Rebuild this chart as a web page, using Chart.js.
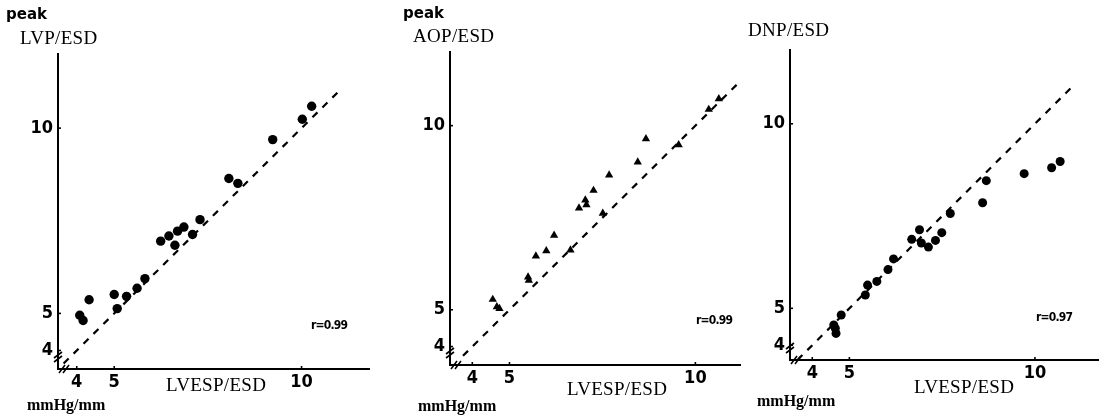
<!DOCTYPE html>
<html>
<head>
<meta charset="utf-8">
<script src="https://cdn.jsdelivr.net/npm/chart.js@4.4.1/dist/chart.umd.min.js"></script>
<style>
  body { margin: 0; background: #fff; }
  #wrap { position: relative; width: 1104px; height: 415px; overflow: hidden; background: #fff; }
  canvas { position: absolute; top: 0; }
  .t { position: absolute; color: #000; white-space: nowrap; line-height: 1; }
  .peak { font-family: "DejaVu Sans", sans-serif; font-weight: bold; font-size: 15px; }
  .ttl { font-family: "Liberation Serif", serif; font-size: 19px; letter-spacing: 0.3px; }
  .unit { font-family: "Liberation Serif", serif; font-weight: bold; font-size: 16px; }
  .r { font-family: "DejaVu Sans Condensed", sans-serif; font-weight: bold; font-size: 12px; letter-spacing: -0.8px; }
</style>
</head>
<body>
<div id="wrap">
  <canvas id="c1" width="380" height="415" style="left:0px"></canvas>
  <canvas id="c2" width="360" height="415" style="left:390px"></canvas>
  <canvas id="c3" width="352" height="415" style="left:752px"></canvas>

  <div class="t peak" style="left:6px;top:7px">peak</div>
  <div class="t ttl" style="left:20px;top:28px">LVP/ESD</div>
  <div class="t ttl" style="left:166px;top:375px">LVESP/ESD</div>
  <div class="t unit" style="left:27px;top:397px">mmHg/mm</div>
  <div class="t r" style="left:311px;top:319px">r=0.99</div>

  <div class="t peak" style="left:403px;top:6px">peak</div>
  <div class="t ttl" style="left:413px;top:26px">AOP/ESD</div>
  <div class="t ttl" style="left:567px;top:379px">LVESP/ESD</div>
  <div class="t unit" style="left:418px;top:398px">mmHg/mm</div>
  <div class="t r" style="left:696px;top:314px">r=0.99</div>

  <div class="t ttl" style="left:748px;top:20px">DNP/ESD</div>
  <div class="t ttl" style="left:914px;top:377px">LVESP/ESD</div>
  <div class="t unit" style="left:757px;top:393px">mmHg/mm</div>
  <div class="t r" style="left:1036px;top:311px">r=0.97</div>
</div>
<script>
// tick labels shown on both axes
const xTicks = [4, 5, 10];
const yTicks = [4, 5, 10];

// peak LVP/ESD vs LVESP/ESD
const lvpX = [4.08, 4.17, 4.33, 5.0, 5.08, 5.33, 5.61, 5.82, 6.24, 6.46, 6.62, 6.69, 6.86, 7.09, 7.29, 8.06, 8.3, 9.23, 10.02, 10.27];
const lvpY = [4.95, 4.81, 5.37, 5.51, 5.13, 5.46, 5.68, 5.94, 6.95, 7.09, 6.84, 7.22, 7.33, 7.13, 7.53, 8.64, 8.51, 9.69, 10.24, 10.59];

// peak AOP/ESD vs LVESP/ESD
const aopX = [4.55, 4.66, 4.73, 5.5, 5.52, 5.71, 5.99, 6.2, 6.64, 6.87, 7.04, 7.07, 7.26, 7.51, 7.68, 8.45, 8.67, 9.55, 10.36, 10.63];
const aopY = [5.28, 5.08, 5.03, 5.89, 5.8, 6.46, 6.6, 7.02, 6.62, 7.76, 7.98, 7.85, 8.24, 7.62, 8.66, 9.01, 9.64, 9.48, 10.44, 10.73];

// DNP/ESD vs LVESP/ESD
const dnpX = [4.62, 4.58, 4.64, 4.78, 5.43, 5.49, 5.74, 6.04, 6.19, 6.68, 6.89, 6.94, 7.13, 7.32, 7.49, 7.72, 8.59, 8.69, 9.71, 10.45, 10.68];
const dnpY = [4.46, 4.55, 4.32, 4.82, 5.36, 5.63, 5.73, 6.05, 6.34, 6.87, 7.13, 6.77, 6.66, 6.84, 7.05, 7.57, 7.86, 8.46, 8.65, 8.81, 8.98];

// identity line ends (x = y)
const line1 = [3.65, 11.0];
const line2 = [3.75, 11.3];
const line3 = [3.6, 11.0];

const tickFont = { family: '"DejaVu Sans Condensed", "DejaVu Sans", sans-serif', size: 18, weight: 'bold' };

const toPts = (xs, ys) => xs.map((x, i) => ({ x: x, y: ys[i] }));

// axis break marks and small inward tick bumps
const axisMarks = {
  id: 'axisMarks',
  afterDraw(chart) {
    const { ctx, scales: { x, y } } = chart;
    const x0 = x.left, y0 = y.bottom;
    ctx.save();
    ctx.strokeStyle = '#000';
    ctx.lineWidth = 1.6;
    xTicks.forEach(v => {
      const px = x.getPixelForValue(v);
      ctx.beginPath(); ctx.moveTo(px, y0); ctx.lineTo(px, y0 - 3); ctx.stroke();
    });
    yTicks.forEach(v => {
      const py = y.getPixelForValue(v);
      ctx.beginPath(); ctx.moveTo(x0, py); ctx.lineTo(x0 + 3, py); ctx.stroke();
    });
    // double slashes near the origin
    [-4, 0].forEach(d => {
      const py = y0 - 10 + d;
      ctx.beginPath(); ctx.moveTo(x0 - 4, py + 3); ctx.lineTo(x0 + 4, py - 3); ctx.stroke();
      const px = x0 + 8 + d;
      ctx.beginPath(); ctx.moveTo(px - 3, y0 + 4); ctx.lineTo(px + 3, y0 - 4); ctx.stroke();
    });
    ctx.restore();
  }
};

function makePanel(id, p) {
  new Chart(document.getElementById(id), {
    type: 'scatter',
    data: {
      datasets: [
        {
          data: toPts(p.xs, p.ys),
          pointStyle: p.style,
          pointRadius: p.radius,
          backgroundColor: '#000',
          borderColor: '#000',
          borderWidth: 0,
        },
        {
          type: 'line',
          data: toPts(p.line, p.line),
          borderColor: '#000',
          borderWidth: 2.2,
          borderDash: [7, 7],
          pointRadius: 0,
          fill: false,
        },
      ],
    },
    options: {
      responsive: false,
      animation: false,
      events: [],
      layout: { padding: { left: 0, top: p.top, right: p.right, bottom: 0 } },
      plugins: { legend: { display: false }, tooltip: { enabled: false } },
      scales: {
        x: {
          type: 'linear',
          min: p.xmin,
          max: p.xmax,
          afterBuildTicks: (axis) => { axis.ticks = xTicks.map(v => ({ value: v })); },
          afterFit: (s) => { s.height = p.xh; },
          grid: { display: false, drawTicks: false },
          border: { display: true, color: '#000', width: 2 },
          ticks: { color: '#000', font: tickFont, padding: 3, maxRotation: 0, autoSkip: false },
        },
        y: {
          type: 'linear',
          min: p.ymin,
          max: p.ymax,
          afterBuildTicks: (axis) => { axis.ticks = yTicks.map(v => ({ value: v })); },
          afterFit: (s) => { s.width = p.yw; },
          grid: { display: false, drawTicks: false },
          border: { display: true, color: '#000', width: 2 },
          ticks: { color: '#000', font: tickFont, padding: 5, autoSkip: false },
        },
      },
    },
    plugins: [axisMarks],
  });
}

makePanel('c1', { xs: lvpX, ys: lvpY, line: line1, style: 'circle', radius: 4.7,
  xmin: 3.5, xmax: 11.8, ymin: 3.5, ymax: 12, top: 54, right: 11, xh: 46, yw: 58 });
makePanel('c2', { xs: aopX, ys: aopY, line: line2, style: 'triangle', radius: 4.8,
  xmin: 3.4, xmax: 11.2, ymin: 3.5, ymax: 12, top: 52, right: 10, xh: 50, yw: 60 });
makePanel('c3', { xs: dnpX, ys: dnpY, line: line3, style: 'circle', radius: 4.5,
  xmin: 3.4, xmax: 11.7, ymin: 3.6, ymax: 12, top: 50, right: 6, xh: 55, yw: 38 });
</script>
</body>
</html>
